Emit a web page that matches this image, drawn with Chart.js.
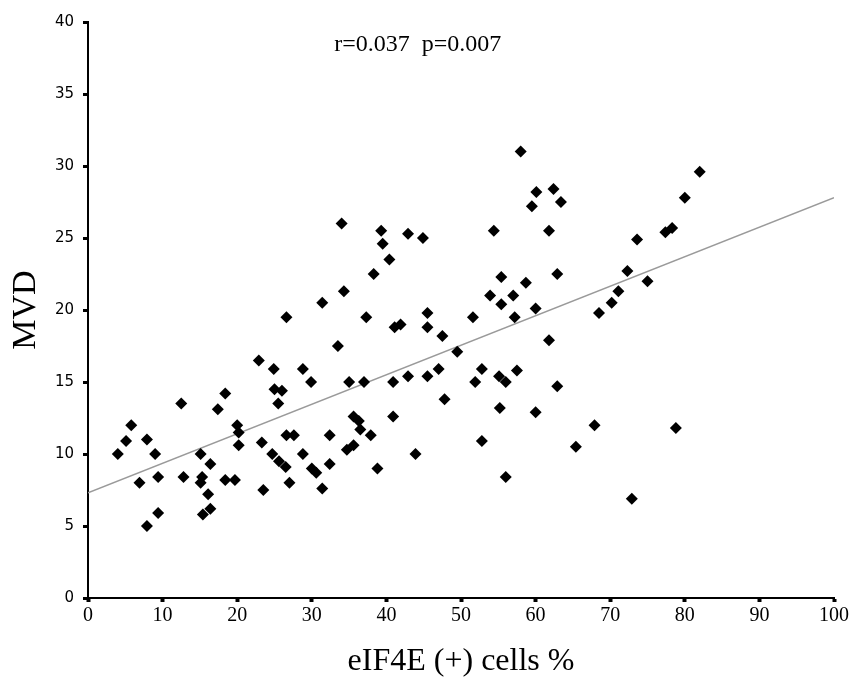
<!DOCTYPE html>
<html lang="en">
<head>
  <meta charset="utf-8"/>
  <title>MVD vs eIF4E</title>
  <script src="https://cdn.jsdelivr.net/npm/chart.js"></script>
  <style>
    body { margin: 0; background: #fff; }
    #wrap { width: 851px; height: 687px; }
  </style>
</head>
<body>
  <div id="wrap"><canvas id="scatterChart" width="851" height="687"></canvas></div>
  <script>
    // eIF4E (+) cells % for each case
    const eif4e = [
      4.0, 5.1, 5.8, 7.9, 9.0, 6.9, 9.4, 9.4, 7.9, 12.5,
      12.8, 15.1, 16.4, 15.3, 15.1, 16.1, 16.4, 15.4, 17.4, 18.4,
      18.4, 19.7, 20.0, 20.2, 20.2, 23.3, 22.9, 24.9, 23.5, 24.7,
      34.0, 39.3, 42.9, 44.9, 39.5, 40.4, 38.3, 34.3, 31.4, 26.6,
      37.3, 41.1, 41.9, 45.5, 45.5, 47.5, 33.5, 28.8, 29.9, 35.0,
      37.0, 40.9, 42.9, 45.5, 47.0, 49.5, 47.8, 40.9, 25.0, 26.0,
      25.5, 35.6, 36.3, 36.5, 37.9, 26.6, 27.6, 32.4, 25.6, 26.5,
      28.8, 34.7, 35.6, 30.0, 30.6, 32.4, 43.9, 38.8, 27.0, 31.4,
      58.0, 60.1, 62.4, 59.5, 63.4, 54.4, 61.8, 73.6, 55.4, 58.7,
      62.9, 72.3, 53.9, 57.0, 55.4, 71.1, 70.2, 68.5, 51.6, 57.2,
      60.0, 61.8, 52.8, 51.9, 55.1, 56.0, 57.5, 62.9, 55.2, 60.0,
      67.9, 52.8, 65.4, 56.0, 82.0, 80.0, 77.4, 78.3, 75.0, 78.8,
      72.9
    ];
    // MVD for the same cases
    const mvd = [
      10.0, 10.9, 12.0, 11.0, 10.0, 8.0, 8.4, 5.9, 5.0, 13.5,
      8.4, 10.0, 9.3, 8.4, 8.0, 7.2, 6.2, 5.8, 13.1, 14.2,
      8.2, 8.2, 12.0, 11.5, 10.6, 10.8, 16.5, 15.9, 7.5, 10.0,
      26.0, 25.5, 25.3, 25.0, 24.6, 23.5, 22.5, 21.3, 20.5, 19.5,
      19.5, 18.8, 19.0, 19.8, 18.8, 18.2, 17.5, 15.9, 15.0, 15.0,
      15.0, 15.0, 15.4, 15.4, 15.9, 17.1, 13.8, 12.6, 14.5, 14.4,
      13.5, 12.6, 12.3, 11.7, 11.3, 11.3, 11.3, 11.3, 9.5, 9.1,
      10.0, 10.3, 10.6, 9.0, 8.7, 9.3, 10.0, 9.0, 8.0, 7.6,
      31.0, 28.2, 28.4, 27.2, 27.5, 25.5, 25.5, 24.9, 22.3, 21.9,
      22.5, 22.7, 21.0, 21.0, 20.4, 21.3, 20.5, 19.8, 19.5, 19.5,
      20.1, 17.9, 15.9, 15.0, 15.4, 15.0, 15.8, 14.7, 13.2, 12.9,
      12.0, 10.9, 10.5, 8.4, 29.6, 27.8, 25.4, 25.7, 22.0, 11.8,
      6.9
    ];
    // fitted regression line end points
    const fitX = [0, 100];
    const fitY = [7.3, 27.8];
    const xTicks = [0, 10, 20, 30, 40, 50, 60, 70, 80, 90, 100];
    const yTicks = [0, 5, 10, 15, 20, 25, 30, 35, 40];
    const statsLabel = 'r=0.037  p=0.007';

    const points = eif4e.map((x, i) => ({x: x, y: mvd[i]}));
    const fitLine = fitX.map((x, i) => ({x: x, y: fitY[i]}));

    const statsText = {
      id: 'statsText',
      afterDraw(chart) {
        const c = chart.ctx;
        const sx = chart.scales.x, sy = chart.scales.y;
        c.save();
        c.font = '24px "Liberation Serif"';
        c.fillStyle = '#000';
        c.textAlign = 'center';
        c.textBaseline = 'middle';
        c.fillText(statsLabel, sx.getPixelForValue(44.2), sy.getPixelForValue(38.4));
        c.restore();
      }
    };

    const ctx = document.getElementById('scatterChart').getContext('2d');
    new Chart(ctx, {
      type: 'scatter',
      data: {
        datasets: [
          {
            label: 'cases',
            data: points,
            pointStyle: 'rectRot',
            pointRadius: 6,
            pointBackgroundColor: '#000',
            pointBorderWidth: 0,
            order: 1
          },
          {
            type: 'line',
            label: 'fit',
            data: fitLine,
            borderColor: '#9a9a9a',
            borderWidth: 1.5,
            pointRadius: 0,
            fill: false,
            order: 2
          }
        ]
      },
      options: {
        responsive: false,
        animation: false,
        layout: { padding: { top: 22, right: 14, left: 0, bottom: 0 } },
        plugins: { legend: { display: false }, tooltip: { enabled: false } },
        scales: {
          x: {
            type: 'linear',
            min: 0,
            max: 100,
            afterFit(scale) { scale.height = 89; },
            afterBuildTicks(scale) { scale.ticks = xTicks.map(v => ({value: v})); },
            border: { display: true, color: '#000', width: 2 },
            grid: { drawOnChartArea: false, drawTicks: true, tickLength: 4, tickWidth: 4, color: '#000' },
            ticks: { color: '#000', padding: 2, maxRotation: 0, font: { family: 'Liberation Serif', size: 20 } },
            title: {
              display: true,
              text: 'eIF4E (+) cells %',
              color: '#000',
              padding: { top: 0, bottom: 6 },
              font: { family: 'Liberation Serif', size: 32 }
            }
          },
          y: {
            type: 'linear',
            min: 0,
            max: 40,
            afterFit(scale) { scale.width = 88; },
            afterBuildTicks(scale) { scale.ticks = yTicks.map(v => ({value: v})); },
            border: { display: true, color: '#000', width: 2 },
            grid: { drawOnChartArea: false, drawTicks: true, tickLength: 5, tickWidth: 3, color: '#000' },
            ticks: { color: '#000', padding: 9, font: { family: 'DejaVu Sans', size: 15 } },
            title: {
              display: true,
              text: 'MVD',
              color: '#000',
              padding: { top: 6, bottom: 0 },
              font: { family: 'Liberation Serif', size: 34 }
            }
          }
        }
      },
      plugins: [statsText]
    });
  </script>
</body>
</html>
